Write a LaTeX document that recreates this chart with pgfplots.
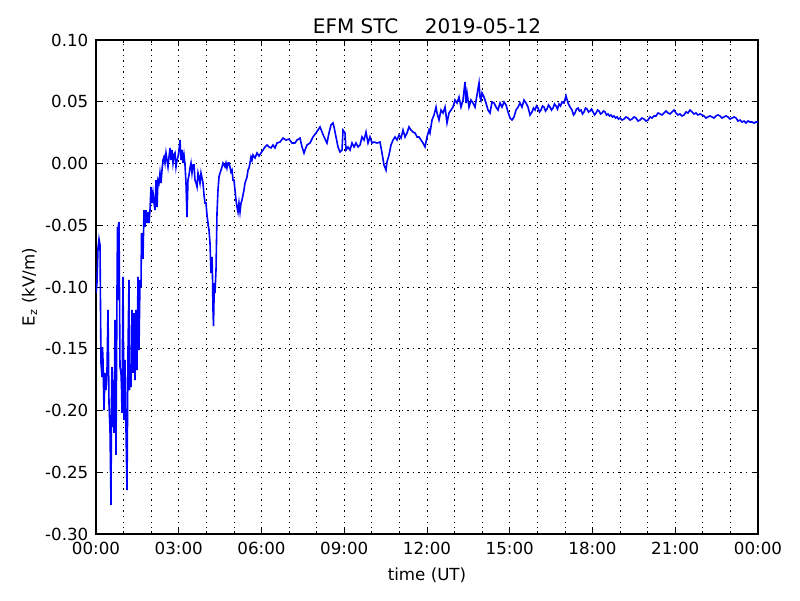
\documentclass[border=0pt]{standalone}
\usepackage{fontspec}
\setmainfont{DejaVu Sans}
\usepackage{pgfplots}
\pgfplotsset{compat=1.18}

\begin{document}
\begin{tikzpicture}
\begin{axis}[
    scale only axis,
    width=476.64pt, height=355.68pt,
    xmin=0, xmax=24,
    ymin=-0.30, ymax=0.10,
    xtick={0,3,6,9,12,15,18,21,24},
    xticklabels={00:00,03:00,06:00,09:00,12:00,15:00,18:00,21:00,00:00},
    minor xtick={1,2,4,5,7,8,10,11,13,14,16,17,19,20,22,23},
    ytick={-0.30,-0.25,-0.20,-0.15,-0.10,-0.05,0,0.05,0.10},
    yticklabels={-0.30,-0.25,-0.20,-0.15,-0.10,-0.05,0.00,0.05,0.10},
    tick align=inside,
    major tick length=4pt,
    minor tick length=2pt,
    every tick/.style={black, line width=0.5pt},
    axis line style={black, line width=1pt},
    grid=both,
    major grid style={black, line width=0.5pt, dash pattern=on 1pt off 3pt},
    minor grid style={black, line width=0.5pt, dash pattern=on 1pt off 3pt},
    ticklabel style={font=\fontsize{12}{14}\selectfont},
    yticklabel style={xshift=-2pt},
    xticklabel style={yshift=-2pt},
    title={EFM STC\hspace{19pt}2019-05-12},
    title style={font=\fontsize{14.4}{17}\selectfont, yshift=-5pt},
    xlabel={time (UT)},
    ylabel={E\textsubscript{z} (kV/m)},
    label style={font=\fontsize{12}{14}\selectfont},
    xlabel style={yshift=-3pt},
    ylabel style={yshift=-1pt},
]
% Ez, kV/m, against hours of the day
\addplot[color=blue, line width=1.15pt] coordinates {
(0,-0.1049)(0.036,-0.0968)(0.073,-0.0684)(0.109,-0.0611)(0.145,-0.0660)
(0.181,-0.1615)(0.218,-0.1729)(0.236,-0.1486)(0.254,-0.1591)(0.290,-0.1996)
(0.326,-0.1696)(0.363,-0.1834)(0.399,-0.1672)(0.435,-0.1186)(0.471,-0.1939)
(0.508,-0.2158)(0.544,-0.2765)(0.562,-0.1915)(0.580,-0.1648)(0.598,-0.2134)
(0.616,-0.1753)(0.653,-0.2182)(0.689,-0.1267)(0.725,-0.2360)(0.761,-0.1049)
(0.779,-0.0514)(0.798,-0.1105)(0.816,-0.0498)(0.834,-0.0474)(0.870,-0.1648)
(0.906,-0.1696)(0.925,-0.1810)(0.943,-0.2020)(0.979,-0.0919)(1.015,-0.2077)
(1.051,-0.1591)(1.088,-0.2158)(1.124,-0.2644)(1.160,-0.1510)(1.196,-0.0943)
(1.215,-0.1834)(1.233,-0.1648)(1.269,-0.1810)(1.305,-0.1186)(1.341,-0.1696)
(1.378,-0.1211)(1.414,-0.1753)(1.450,-0.1186)(1.486,-0.1672)(1.523,-0.0919)
(1.559,-0.1510)(1.595,-0.0943)(1.631,-0.1000)(1.650,-0.0563)(1.668,-0.0765)
(1.704,-0.0765)(1.740,-0.0377)(1.776,-0.0514)(1.813,-0.0377)(1.849,-0.0482)
(1.885,-0.0393)(1.922,-0.0482)(1.958,-0.0377)(1.994,-0.0190)(2.030,-0.0320)
(2.067,-0.0239)(2.103,-0.0320)(2.139,-0.0377)(2.175,-0.0134)(2.212,-0.0352)
(2.248,-0.0134)(2.284,-0.0158)(2.320,-0.0077)(2.357,-0.0158)(2.393,-0.0053)
(2.429,0.0028)(2.465,0.0053)(2.502,0.0004)(2.538,0.0085)(2.574,0.0028)
(2.610,-0.0028)(2.647,0.0053)(2.683,0.0126)(2.719,0.0028)(2.755,0.0109)
(2.792,0.0004)(2.828,0.0069)(2.864,0.0085)(2.900,-0.0028)(2.937,0.0028)
(2.973,0.0053)(3.009,0.0109)(3.045,0.0190)(3.082,0.0028)(3.118,0.0109)
(3.154,0.0004)(3.190,0.0069)(3.227,-0.0012)(3.263,-0.0158)(3.299,-0.0433)
(3.335,-0.0134)(3.372,-0.0093)(3.408,-0.0036)(3.444,0.0004)(3.480,-0.0077)
(3.517,-0.0012)(3.553,-0.0012)(3.589,-0.0134)(3.626,-0.0158)(3.662,-0.0190)
(3.698,-0.0077)(3.734,-0.0109)(3.771,-0.0158)(3.807,-0.0077)(3.843,-0.0117)
(3.879,-0.0158)(3.916,-0.0255)(3.952,-0.0320)(3.988,-0.0320)(4.024,-0.0417)
(4.061,-0.0482)(4.097,-0.0538)(4.133,-0.0644)(4.169,-0.0887)(4.206,-0.0757)
(4.224,-0.0919)(4.242,-0.1186)(4.260,-0.1316)(4.278,-0.1105)(4.296,-0.0968)
(4.314,-0.1049)(4.351,-0.0862)(4.387,-0.0401)(4.423,-0.0215)(4.459,-0.0109)
(4.496,-0.0077)(4.532,-0.0053)(4.568,-0.0028)(4.604,0.0004)(4.641,-0.0012)
(4.677,-0.0028)(4.713,0.0004)(4.749,-0.0036)(4.786,0.0004)(4.822,0.0004)
(4.858,-0.0028)(4.894,-0.0069)(4.931,-0.0053)(4.967,-0.0134)(5.003,-0.0134)
(5.039,-0.0215)(5.076,-0.0296)(5.112,-0.0352)(5.148,-0.0393)(5.184,-0.0320)
(5.221,-0.0393)(5.257,-0.0320)(5.293,-0.0296)(5.329,-0.0255)(5.366,-0.0215)
(5.402,-0.0158)(5.438,-0.0134)(5.475,-0.0109)(5.511,-0.0053)(5.547,-0.0036)
(5.583,0.0004)(5.620,0.0053)(5.656,0.0028)(5.692,0.0069)(5.765,0.0045)
(5.837,0.0085)(5.910,0.0061)(5.982,0.0085)(6.055,0.0109)(6.127,0.0134)
(6.200,0.0150)(6.272,0.0134)(6.345,0.0126)(6.417,0.0150)(6.490,0.0126)
(6.562,0.0166)(6.671,0.0174)(6.780,0.0206)(6.888,0.0190)(6.997,0.0198)
(7.106,0.0166)(7.215,0.0166)(7.287,0.0190)(7.396,0.0206)(7.469,0.0134)
(7.541,0.0085)(7.577,0.0109)(7.650,0.0150)(7.759,0.0166)(7.867,0.0215)
(7.976,0.0247)(8.049,0.0271)(8.121,0.0296)(8.194,0.0255)(8.266,0.0215)
(8.375,0.0166)(8.447,0.0247)(8.520,0.0312)(8.592,0.0328)(8.629,0.0296)
(8.701,0.0215)(8.774,0.0134)(8.846,0.0093)(8.919,0.0109)(8.955,0.0271)
(9.027,0.0247)(9.064,0.0109)(9.136,0.0134)(9.209,0.0109)(9.281,0.0166)
(9.354,0.0134)(9.426,0.0166)(9.499,0.0134)(9.571,0.0150)(9.644,0.0215)
(9.716,0.0190)(9.789,0.0255)(9.861,0.0166)(9.934,0.0215)(10.006,0.0166)
(10.079,0.0174)(10.188,0.0166)(10.296,0.0174)(10.369,0.0085)(10.441,-0.0012)
(10.514,-0.0053)(10.550,0.0012)(10.623,0.0069)(10.695,0.0150)(10.768,0.0190)
(10.840,0.0215)(10.913,0.0190)(10.985,0.0231)(11.058,0.0206)(11.130,0.0271)
(11.203,0.0215)(11.275,0.0247)(11.348,0.0296)(11.420,0.0271)(11.493,0.0255)
(11.565,0.0247)(11.638,0.0215)(11.710,0.0215)(11.783,0.0190)(11.855,0.0166)
(11.928,0.0134)(12.000,0.0215)(12.073,0.0271)(12.109,0.0247)(12.182,0.0352)
(12.254,0.0393)(12.327,0.0457)(12.363,0.0409)(12.435,0.0352)(12.508,0.0433)
(12.580,0.0409)(12.653,0.0457)(12.726,0.0328)(12.798,0.0409)(12.871,0.0433)
(12.943,0.0457)(13.016,0.0514)(13.088,0.0490)(13.161,0.0538)(13.233,0.0457)
(13.306,0.0514)(13.378,0.0660)(13.414,0.0490)(13.451,0.0571)(13.523,0.0457)
(13.596,0.0514)(13.668,0.0490)(13.741,0.0457)(13.813,0.0555)(13.886,0.0652)
(13.922,0.0538)(13.958,0.0514)(13.994,0.0571)(14.067,0.0538)(14.139,0.0490)
(14.212,0.0433)(14.284,0.0409)(14.357,0.0498)(14.430,0.0490)(14.502,0.0457)
(14.575,0.0433)(14.647,0.0490)(14.720,0.0457)(14.792,0.0498)(14.865,0.0474)
(14.937,0.0417)(15.010,0.0368)(15.082,0.0352)(15.155,0.0377)(15.227,0.0433)
(15.300,0.0457)(15.372,0.0490)(15.445,0.0457)(15.517,0.0514)(15.590,0.0490)
(15.662,0.0457)(15.735,0.0393)(15.807,0.0417)(15.862,0.0449)(15.916,0.0433)
(15.970,0.0466)(16.025,0.0449)(16.079,0.0417)(16.133,0.0433)(16.188,0.0466)
(16.242,0.0457)(16.297,0.0425)(16.351,0.0441)(16.405,0.0474)(16.460,0.0457)
(16.514,0.0433)(16.569,0.0449)(16.623,0.0482)(16.677,0.0466)(16.732,0.0441)
(16.786,0.0482)(16.841,0.0466)(16.895,0.0498)(16.967,0.0490)(17.040,0.0547)
(17.112,0.0490)(17.185,0.0457)(17.257,0.0433)(17.312,0.0393)(17.366,0.0409)
(17.420,0.0441)(17.475,0.0449)(17.529,0.0425)(17.584,0.0433)(17.638,0.0401)
(17.692,0.0417)(17.747,0.0449)(17.801,0.0441)(17.856,0.0417)(17.910,0.0425)
(17.964,0.0441)(18.019,0.0417)(18.073,0.0393)(18.128,0.0409)(18.182,0.0433)
(18.236,0.0425)(18.291,0.0401)(18.345,0.0409)(18.400,0.0425)(18.454,0.0417)
(18.508,0.0393)(18.563,0.0401)(18.617,0.0385)(18.671,0.0393)(18.726,0.0377)
(18.780,0.0385)(18.835,0.0368)(18.889,0.0377)(18.943,0.0360)(18.998,0.0368)
(19.070,0.0352)(19.143,0.0360)(19.215,0.0377)(19.288,0.0368)(19.360,0.0352)
(19.433,0.0360)(19.505,0.0377)(19.578,0.0368)(19.650,0.0344)(19.723,0.0352)
(19.795,0.0368)(19.868,0.0360)(19.940,0.0344)(20.013,0.0352)(20.085,0.0377)
(20.158,0.0368)(20.230,0.0385)(20.303,0.0385)(20.375,0.0409)(20.448,0.0401)
(20.520,0.0393)(20.593,0.0409)(20.665,0.0425)(20.738,0.0409)(20.810,0.0401)
(20.883,0.0417)(20.955,0.0433)(21.028,0.0409)(21.100,0.0393)(21.173,0.0401)
(21.245,0.0385)(21.318,0.0393)(21.390,0.0417)(21.463,0.0409)(21.535,0.0433)
(21.608,0.0417)(21.680,0.0401)(21.753,0.0409)(21.825,0.0393)(21.898,0.0401)
(21.970,0.0393)(22.043,0.0385)(22.115,0.0368)(22.188,0.0377)(22.260,0.0385)
(22.333,0.0377)(22.405,0.0368)(22.478,0.0385)(22.550,0.0393)(22.623,0.0385)
(22.695,0.0368)(22.768,0.0377)(22.840,0.0385)(22.913,0.0377)(22.985,0.0360)
(23.058,0.0368)(23.130,0.0377)(23.203,0.0368)(23.275,0.0344)(23.348,0.0352)
(23.420,0.0336)(23.493,0.0344)(23.565,0.0328)(23.638,0.0344)(23.710,0.0336)
(23.783,0.0336)(23.855,0.0328)(23.928,0.0336)(24.000,0.0336)
};
\end{axis}
\pgfresetboundingbox
\path[use as bounding box] (-69.12pt,-47.52pt) rectangle (506.88pt,384.48pt);
\end{tikzpicture}
\end{document}
